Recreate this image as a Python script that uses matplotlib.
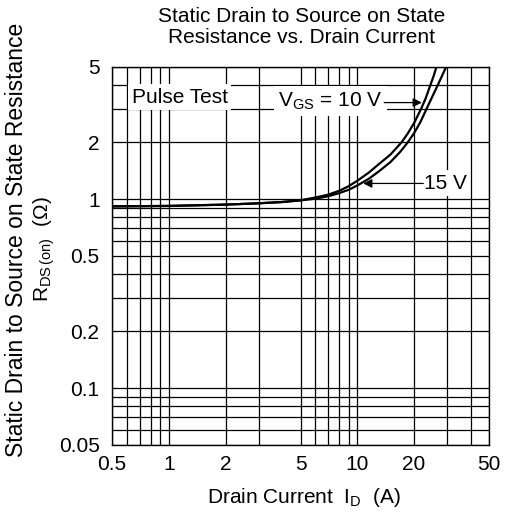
import matplotlib
matplotlib.use("Agg")
import matplotlib.pyplot as plt

plt.rcParams['font.family'] = ['Liberation Sans', 'DejaVu Sans']
plt.rcParams['mathtext.fontset'] = 'custom'
plt.rcParams['mathtext.rm'] = 'Liberation Sans'
plt.rcParams['mathtext.it'] = 'Liberation Sans'

# drain current (A) and on resistance (ohm) for each gate voltage
id_10v = [0.5, 1, 2, 3, 4, 5, 6, 7, 8, 9, 10, 11.5, 13, 15, 17.2, 18.5, 20, 21.8, 23, 24.4, 25.4, 26.3]
rds_10v = [0.915, 0.92, 0.935, 0.95, 0.965, 0.985, 1.02, 1.055, 1.105, 1.17, 1.25, 1.38, 1.53, 1.72, 2.0,
           2.22, 2.52, 3.0, 3.39, 4.0, 4.47, 5.0]

id_15v = [0.5, 1, 2, 3, 4, 5, 6, 7, 8, 9, 10, 11.5, 13, 15, 17, 18.55, 20, 21.6, 23.3, 26.7, 29.6]
rds_15v = [0.915, 0.92, 0.935, 0.95, 0.965, 0.985, 1.005, 1.035, 1.075, 1.12, 1.18, 1.28, 1.40, 1.57, 1.79,
           2.0, 2.23, 2.55, 3.0, 4.0, 5.0]

x_major = [0.5, 1, 2, 5, 10, 20, 50]
x_labels = ['0.5', '1', '2', '5', '10', '20', '50']
x_minor = [0.6, 0.7, 0.8, 0.9, 3, 6, 7, 8, 9, 30, 40]
y_major = [0.05, 0.1, 0.2, 0.5, 1, 2, 5]
y_labels = ['0.05', '0.1', '0.2', '0.5', '1', '2', '5']
y_minor = [0.06, 0.07, 0.08, 0.09, 0.3, 0.4, 0.6, 0.7, 0.8, 0.9, 3, 4]

fs = 15

fig = plt.figure(figsize=(5.14, 5.16), dpi=100)
ax = fig.add_axes([0.218, 0.1376, 0.7334, 0.7326])

ax.plot(id_10v, rds_10v, color='black', lw=1.6, zorder=3)
ax.plot(id_15v, rds_15v, color='black', lw=1.6, zorder=3)

ax.set_xscale('log')
ax.set_yscale('log')
ax.set_xlim(0.5, 50)
ax.set_ylim(0.05, 5)

ax.set_xticks(x_major)
ax.set_xticklabels(x_labels)
ax.set_xticks(x_minor, minor=True)
ax.set_xticklabels([], minor=True)
ax.set_yticks(y_major)
ax.set_yticklabels(y_labels)
ax.set_yticks(y_minor, minor=True)
ax.set_yticklabels([], minor=True)
ax.tick_params(which='both', length=0, labelsize=fs)
ax.tick_params(axis='x', pad=7)
ax.tick_params(axis='y', pad=9)

ax.grid(True, which='both', color='black', lw=0.9, zorder=1)
ax.set_axisbelow(True)
for s in ax.spines.values():
    s.set_linewidth(1.0)

arrow = dict(arrowstyle='-|>', color='black', lw=0.9, mutation_scale=13, shrinkA=0, shrinkB=0)

ax.text(0.635, 3.45, 'Pulse Test', fontsize=fs, va='center', ha='left',
        bbox=dict(facecolor='white', edgecolor='none', pad=2.5), zorder=4)
ax.text(3.8, 3.3, r'V$_{\rm GS}$ = 10 V', fontsize=fs, va='center', ha='left',
        bbox=dict(facecolor='white', edgecolor='none', pad=3), zorder=4)
ax.annotate('', xy=(22.0, 3.24), xytext=(13.9, 3.24), arrowprops=arrow, zorder=4)
ax.text(22.6, 1.21, '15 V', fontsize=fs, va='center', ha='left',
        bbox=dict(facecolor='white', edgecolor='none', pad=2.5), zorder=4)
ax.annotate('', xy=(10.75, 1.21), xytext=(22.4, 1.21), arrowprops=arrow, zorder=4)

fig.text(0.587, 0.986, 'Static Drain to Source on State\nResistance vs. Drain Current',
         ha='center', va='top', fontsize=fs, linespacing=1.15)
fig.text(0.591, 0.035, r'Drain Current  I$_{\rm D}$  (A)', ha='center', va='center', fontsize=fs)
fig.text(0.033, 0.535, 'Static Drain to Source on State Resistance', rotation=90,
         ha='center', va='center', fontsize=16.5)
fig.text(0.086, 0.517, r'R$_{\rm DS\,(on)}$  ($\Omega$)', rotation=90,
         ha='center', va='center', fontsize=fs)

fig.savefig('out.png', dpi=100)
